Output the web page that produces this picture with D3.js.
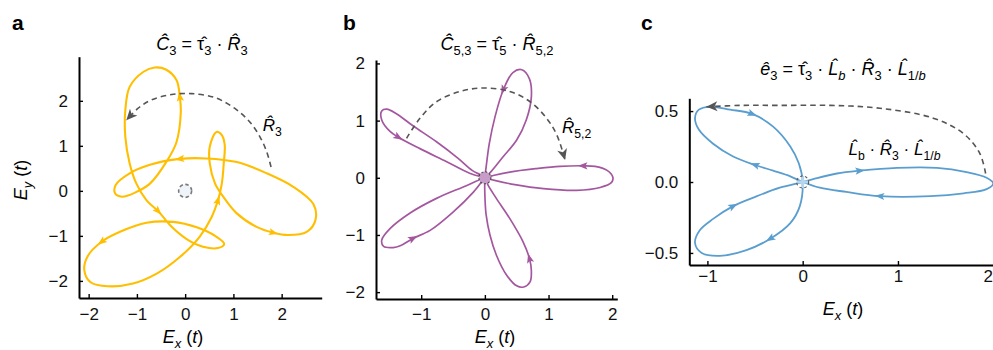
<!DOCTYPE html>
<html>
<head>
<meta charset="utf-8">
<script src="https://cdn.jsdelivr.net/npm/d3@7"></script>
<style>
  body { margin: 0; background: #fff; }
  svg { display: block; font-family: "Liberation Sans", Arial, Helvetica, sans-serif; }
</style>
</head>
<body>
<svg id="chart" width="993" height="350"></svg>
<script>
// ---- values: field tip E(t) = (Ex, Ey), in traversal order ----

// panel a: C3 trefoil (closed)
const trefoilPoints = [
  [0.65, 1.31], [0.51, 0.98], [0.51, 0.61], [0.62, 0.16], [0.79, -0.13], [1.07, -0.50],
  [1.48, -0.80], [1.83, -0.93], [2.13, -0.98], [2.52, -0.91], [2.70, -0.65], [2.66, -0.30],
  [2.24, 0.09], [1.69, 0.39], [1.07, 0.64], [0.44, 0.72], [-0.11, 0.71], [-0.73, 0.58],
  [-1.15, 0.39], [-1.44, 0.13], [-1.45, -0.06], [-1.31, -0.13], [-1.04, -0.04], [-0.73, 0.16],
  [-0.38, 0.66], [-0.18, 1.08], [-0.09, 1.75], [-0.11, 2.09], [-0.18, 2.46], [-0.39, 2.69],
  [-0.63, 2.74], [-0.87, 2.64], [-1.15, 2.31], [-1.24, 1.79], [-1.24, 1.20], [-1.15, 0.61],
  [-1.01, 0.16], [-0.80, -0.21], [-0.56, -0.45], [-0.28, -0.80], [0.03, -1.07], [0.37, -1.24],
  [0.68, -1.27], [0.81, -1.18], [0.62, -1.00], [0.24, -0.81], [-0.25, -0.69], [-0.80, -0.71],
  [-1.35, -0.91], [-1.73, -1.13], [-2.02, -1.45], [-2.09, -1.76], [-1.96, -2.03], [-1.60, -2.12],
  [-1.08, -2.06], [-0.59, -1.84], [-0.11, -1.47], [0.30, -1.02], [0.55, -0.58], [0.68, -0.21],
  [0.76, 0.16], [0.80, 0.61], [0.82, 1.02], [0.76, 1.24]
];
const trefoilArrows = [[1.83, -0.93], [-0.11, 0.71], [-0.11, 2.09], [-0.56, -0.45], [-1.73, -1.13], [0.68, -0.21]];
const arcA = [[1.78, 0.53], [1.69, 0.87], [1.55, 1.20], [1.34, 1.53], [1.03, 1.83], [0.62, 2.07],
  [0.13, 2.16], [-0.28, 2.14], [-0.70, 2.02], [-0.98, 1.83], [-1.22, 1.57]];

// panel b: five petals, each leaves and returns to the origin
const petalUp = [[0.09, 0.10], [0.28, 0.36], [0.50, 0.66], [0.65, 1.01], [0.73, 1.41], [0.70, 1.73],
  [0.58, 1.89], [0.44, 1.84], [0.29, 1.54], [0.16, 1.07], [0.07, 0.60], [0.02, 0.19]];
const petalDown = [[0.00, -0.30], [0.02, -0.65], [0.08, -1.00], [0.18, -1.35], [0.34, -1.70], [0.50, -1.89],
  [0.61, -1.91], [0.71, -1.82], [0.73, -1.62], [0.70, -1.41], [0.60, -1.12], [0.39, -0.71], [0.18, -0.36], [0.05, -0.13]];
const petalUpperLeft = [[-0.20, 0.13], [-0.42, 0.34], [-0.76, 0.63], [-1.13, 0.91], [-1.39, 1.12], [-1.54, 1.20],
  [-1.62, 1.17], [-1.62, 1.01], [-1.49, 0.81], [-1.36, 0.71], [-1.02, 0.51], [-0.60, 0.28], [-0.24, 0.08]];
const petalRight = [[0.17, -0.05], [0.47, -0.12], [0.92, -0.19], [1.44, -0.22], [1.81, -0.17], [1.99, -0.08],
  [2.01, 0.01], [1.92, 0.13], [1.73, 0.20], [1.54, 0.21], [1.18, 0.20], [0.81, 0.16], [0.39, 0.10], [0.13, 0.04]];
const petalLowerLeft = [[-0.34, -0.16], [-0.76, -0.36], [-1.18, -0.62], [-1.49, -0.89], [-1.62, -1.09], [-1.59, -1.20],
  [-1.44, -1.22], [-1.33, -1.19], [-1.13, -1.06], [-0.86, -0.92], [-0.50, -0.60], [-0.18, -0.25]];
const roseArrows = [[0.29, 1.54], [0.70, -1.41], [-1.36, 0.71], [1.54, 0.21], [-1.13, -1.06]];
const arcB = [[-1.23, 0.69], [-1.02, 1.04], [-0.76, 1.33], [-0.39, 1.51], [-0.03, 1.57], [0.39, 1.51],
  [0.71, 1.33], [0.97, 1.04], [1.13, 0.75], [1.26, 0.31]];

// panel c: stretched three-lobe curve
const lobeUpper = [[-0.13, 0.04], [-0.31, 0.08], [-0.50, 0.12], [-0.73, 0.18], [-0.94, 0.27], [-1.09, 0.37],
  [-1.13, 0.45], [-1.09, 0.51], [-0.97, 0.53], [-0.76, 0.51], [-0.53, 0.48], [-0.31, 0.39], [-0.13, 0.25], [-0.04, 0.13]];
const lobeLower = [[-0.03, -0.17], [-0.13, -0.29], [-0.34, -0.40], [-0.59, -0.48], [-0.87, -0.52], [-1.06, -0.50],
  [-1.13, -0.43], [-1.08, -0.34], [-0.94, -0.26], [-0.73, -0.17], [-0.48, -0.10], [-0.24, -0.04]];
const lobeRight = [[0.11, 0.02], [0.36, 0.06], [0.60, 0.08], [0.99, 0.10], [1.41, 0.10], [1.72, 0.07],
  [1.93, 0.03], [2.00, -0.01], [1.93, -0.05], [1.69, -0.08], [1.34, -0.10], [0.81, -0.10], [0.46, -0.07], [0.18, -0.04]];
const lobeArrows = [[-0.50, 0.12], [-0.53, 0.48], [-0.34, -0.40], [-0.73, -0.17], [0.60, 0.08], [0.81, -0.10]];
const arcC = [[1.92, 0.06], [1.86, 0.20], [1.69, 0.34], [1.37, 0.45], [0.81, 0.52], [0.29, 0.54],
  [-0.24, 0.54], [-0.66, 0.54], [-1.01, 0.53]];

const origin = [0, 0];
const intTicksA = [-2, -1, 0, 1, 2];
const intTicksB = [-1, 0, 1, 2];
const halfTicks = [-0.5, 0, 0.5];

// ---- layout ----
const svg = d3.select('#chart');
const width = +svg.attr('width');
const fmtInt = d3.format('d');
const fmtHalf = d3.format('.1f');

const panels = [
  {
    key: 'a', letterX: 12, xDomain: [-2.2, 2.83], xRange: [79, 321.7], yDomain: [-2.38, 2.98], yRange: [298, 56.7],
    xTicks: intTicksA, yTicks: intTicksA, xFmt: fmtInt, yFmt: fmtInt, xPad: 10,
    curve: trefoilPoints, arrows: trefoilArrows, arc: arcA, color: '#FFBF00', width: 2.1,
    title: {x: 202, y: 50, parts: [['\u0108', 'i'], ['3', 's'], [' = \u03C4\u0302'], ['3', 's'], [' \u00B7 '], ['R\u0302', 'i'], ['3', 's']]},
    note: {x: 1.61, y: 1.33, parts: [['R\u0302', 'i'], ['3', 's']]},
    xLabelX: 183, xLabelY: 343, marker: 'open'
  },
  {
    key: 'b', letterX: 343, xDomain: [-1.71, 2.08], xRange: [376, 617.3], yDomain: [-2.12, 2.06], yRange: [299, 60],
    xTicks: intTicksB, yTicks: intTicksA, xFmt: fmtInt, yFmt: fmtInt, xPad: 9,
    curve: [origin, ...petalUp, origin, ...petalDown, origin, ...petalUpperLeft, origin, ...petalRight, origin, ...petalLowerLeft],
    arrows: roseArrows, arc: arcB, color: '#A4579F', width: 1.7,
    title: {x: 497, y: 50, parts: [['\u0108', 'i'], ['5,3', 's'], [' = \u03C4\u0302'], ['5', 's'], [' \u00B7 '], ['R\u0302', 'i'], ['5,2', 's']]},
    note: {x: 1.21, y: 0.78, parts: [['R\u0302', 'i'], ['5,2', 's']]},
    xLabelX: 495, xLabelY: 343, marker: 'filled'
  },
  {
    key: 'c', letterX: 641, xDomain: [-1.19, 2.05], xRange: [689.3, 998], yDomain: [-0.585, 0.59], yRange: [265, 98.3],
    xTicks: intTicksB, yTicks: halfTicks, xFmt: fmtInt, yFmt: fmtHalf, xPad: 4.5,
    curve: [origin, ...lobeUpper, origin, ...lobeLower, origin, ...lobeRight],
    arrows: lobeArrows, arc: arcC, color: '#5A9ECF', width: 1.8,
    title: {x: 843, y: 75, parts: [['\u00EA', 'i'], ['3', 's'], [' = \u03C4\u0302'], ['3', 's'], [' \u00B7 '], ['L\u0302', 'i'], ['b', 'si'],
      [' \u00B7 '], ['R\u0302', 'i'], ['3', 's'], [' \u00B7 '], ['L\u0302', 'i'], ['1/', 's'], ['b', 'si']]},
    note: {x: 0.48, y: 0.19, parts: [['L\u0302', 'i'], ['b', 's'], [' \u00B7 '], ['R\u0302', 'i'], ['3', 's'], [' \u00B7 '], ['L\u0302', 'i'], ['1/', 's'], ['b', 'si']]},
    xLabelX: 843, xLabelY: 315, marker: 'cross'
  }
];

// text with italic parts and subscripts
function richText(g, x, y, parts, size, anchor) {
  const t = g.append('text')
    .attr('x', x).attr('y', y)
    .attr('font-size', size)
    .attr('text-anchor', anchor || 'start')
    .style('white-space', 'pre');
  let down = 0;
  parts.forEach(([txt, f = '']) => {
    const sub = f.includes('s');
    const want = sub ? size * 0.28 : 0;
    const ts = t.append('tspan').text(txt);
    if (want !== down) ts.attr('dy', want - down);
    down = want;
    if (sub) ts.attr('font-size', size * 0.72);
    if (f.includes('i')) ts.attr('font-style', 'italic');
  });
  return t;
}

// position along a drawn path closest to a point
function nearestLength(node, px, py) {
  const total = node.getTotalLength();
  let best = 0, bestD = Infinity;
  for (let l = 0; l <= total; l += 0.5) {
    const p = node.getPointAtLength(l);
    const d = (p.x - px) ** 2 + (p.y - py) ** 2;
    if (d < bestD) { bestD = d; best = l; }
  }
  return best;
}

function angleAt(node, l) {
  const total = node.getTotalLength();
  const a = node.getPointAtLength(Math.max(l - 2, 0));
  const b = node.getPointAtLength(Math.min(l + 2, total));
  return Math.atan2(b.y - a.y, b.x - a.x) * 180 / Math.PI;
}

panels.forEach(p => {
  const x = d3.scaleLinear().domain(p.xDomain).range(p.xRange);
  const y = d3.scaleLinear().domain(p.yDomain).range(p.yRange);
  const g = svg.append('g').attr('class', 'panel-' + p.key);

  // axes (frame on left and bottom only, ticks pointing inward)
  const xAxis = g.append('g')
    .attr('transform', `translate(0,${p.yRange[0]})`)
    .call(d3.axisBottom(x).tickValues(p.xTicks).tickFormat(p.xFmt).tickSize(-4).tickSizeOuter(0).tickPadding(p.xPad));
  const yAxis = g.append('g')
    .attr('transform', `translate(${p.xRange[0]},0)`)
    .call(d3.axisLeft(y).tickValues(p.yTicks).tickFormat(p.yFmt).tickSize(-4).tickSizeOuter(0).tickPadding(11));
  [xAxis, yAxis].forEach(ax => {
    ax.attr('font-family', null).attr('font-size', 17);
    ax.select('.domain').attr('stroke', '#000').attr('stroke-width', 2);
    ax.selectAll('.tick line').attr('stroke', '#000').attr('stroke-width', 1.4);
    ax.selectAll('.tick text').attr('fill', '#111');
  });
  // keep a tick label that would run past the page edge inside it
  xAxis.selectAll('.tick').each(function(d) {
    if (x(d) + 6 > width) {
      d3.select(this).select('text').attr('text-anchor', 'end').attr('x', width - x(d) - 0.5);
    }
  });

  // field trajectory
  const line = d3.line()
    .x(d => x(d[0]))
    .y(d => y(d[1]))
    .curve(d3.curveCatmullRomClosed.alpha(0.5));
  const path = g.append('path')
    .datum(p.curve)
    .attr('d', line)
    .attr('fill', 'none')
    .attr('stroke', p.color)
    .attr('stroke-width', p.width)
    .attr('stroke-linejoin', 'round');

  // direction arrows on the trajectory
  const node = path.node();
  g.selectAll('.dir')
    .data(p.arrows)
    .enter()
    .append('path')
    .attr('class', 'dir')
    .attr('d', 'M5,0 L-4.5,-3.6 L-2.5,0 L-4.5,3.6 Z')
    .attr('fill', p.color)
    .attr('transform', d => {
      const px = x(d[0]), py = y(d[1]);
      const ang = angleAt(node, nearestLength(node, px, py));
      return `translate(${px},${py}) rotate(${ang})`;
    });

  // dashed symmetry arc with arrowhead
  const arcPath = g.append('path')
    .datum(p.arc)
    .attr('d', d3.line().x(d => x(d[0])).y(d => y(d[1])).curve(d3.curveCatmullRom.alpha(0.5)))
    .attr('fill', 'none')
    .attr('stroke', '#555')
    .attr('stroke-width', 1.6)
    .attr('stroke-dasharray', '5.5,4');
  const an = arcPath.node();
  const end = an.getPointAtLength(an.getTotalLength());
  g.append('path')
    .attr('d', 'M0,0 L-11,-5 L-8,0 L-11,5 Z')
    .attr('fill', '#555')
    .attr('transform', `translate(${end.x},${end.y}) rotate(${angleAt(an, an.getTotalLength() - 2)})`);

  // origin marker
  const ox = x(0), oy = y(0);
  if (p.marker === 'open') {
    g.append('circle').attr('cx', ox).attr('cy', oy).attr('r', 6.5)
      .attr('fill', '#eef4fa').attr('stroke', '#7a7a7a').attr('stroke-width', 1.6).attr('stroke-dasharray', '3.5,2.5');
  } else if (p.marker === 'filled') {
    g.append('circle').attr('cx', ox).attr('cy', oy).attr('r', 6)
      .attr('fill', '#c79cc8').attr('stroke', '#444').attr('stroke-width', 1.1).attr('stroke-dasharray', '2,2');
  } else {
    g.append('path').attr('d', `M${ox - 6},${oy}H${ox + 6}M${ox},${oy - 6}V${oy + 6}`)
      .attr('stroke', '#b5d6ee').attr('stroke-width', 3);
    g.append('circle').attr('cx', ox).attr('cy', oy).attr('r', 6)
      .attr('fill', 'none').attr('stroke', '#555').attr('stroke-width', 1.1).attr('stroke-dasharray', '2.5,2.5');
  }

  // texts
  g.append('text').attr('x', p.letterX).attr('y', 30)
    .attr('font-size', 21).attr('font-weight', 'bold').text(p.key);
  richText(g, p.title.x, p.title.y, p.title.parts, 18, 'middle');
  richText(g, x(p.note.x), y(p.note.y), p.note.parts, 17, 'start');
  richText(g, p.xLabelX, p.xLabelY, [['E', 'i'], ['x', 'si'], [' ('], ['t', 'i'], [')']], 18, 'middle');
});

// y label only on the first panel
richText(svg, 27, 180, [['E', 'i'], ['y', 'si'], [' ('], ['t', 'i'], [')']], 18, 'middle')
  .attr('transform', 'rotate(-90,27,180)');
</script>
</body>
</html>
